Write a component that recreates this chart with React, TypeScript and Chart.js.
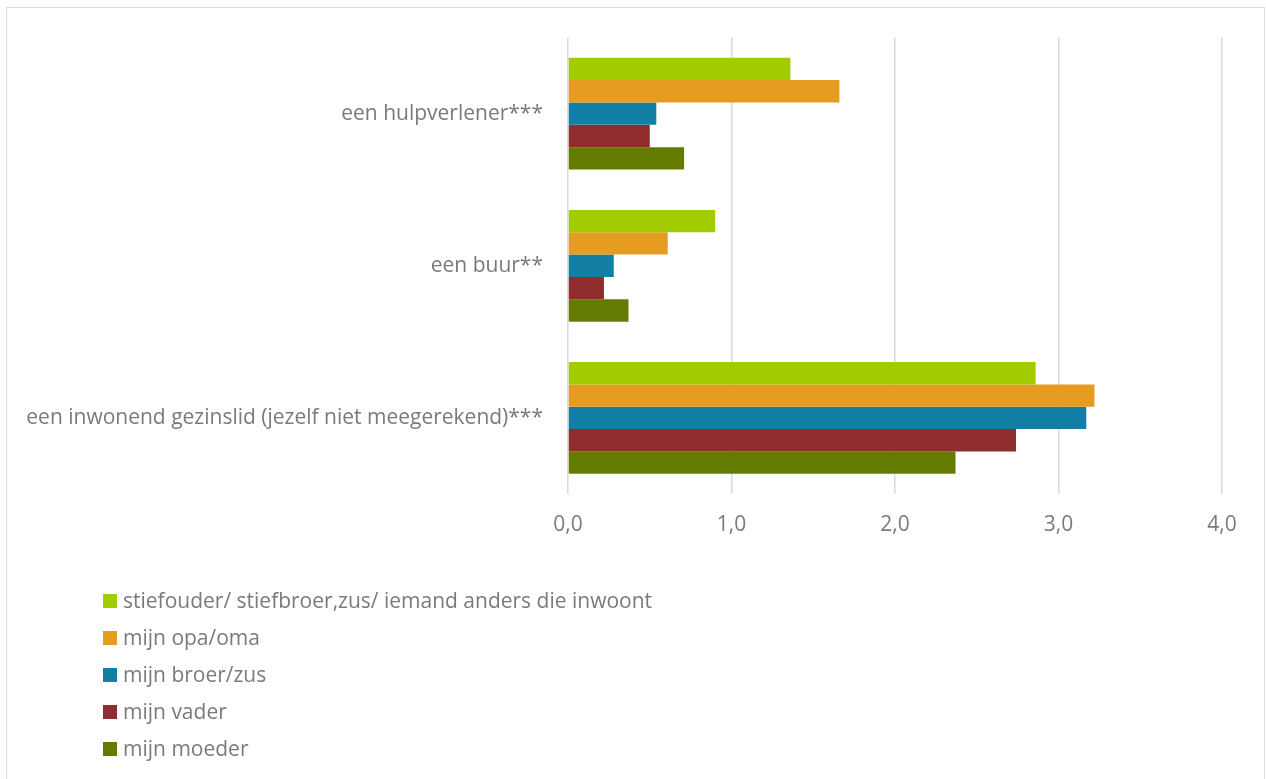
import React, { useEffect, useRef } from "react";
import { Chart, registerables } from "chart.js";

Chart.register(...registerables);

const categories = [
  "een hulpverlener***",
  "een buur**",
  "een inwonend gezinslid (jezelf niet meegerekend)***",
];

const seriesLabels = [
  "stiefouder/ stiefbroer,zus/ iemand anders die inwoont",
  "mijn opa/oma",
  "mijn broer/zus",
  "mijn vader",
  "mijn moeder",
];

const stiefouder = [1.36, 0.9, 2.86];
const opaOma = [1.66, 0.61, 3.22];
const broerZus = [0.54, 0.28, 3.17];
const vader = [0.5, 0.22, 2.74];
const moeder = [0.71, 0.37, 2.37];

const seriesValues = [stiefouder, opaOma, broerZus, vader, moeder];
const seriesColors = ["#a2cb00", "#e69b21", "#137fa5", "#8f2d2f", "#637c00"];

const xTicks = [0, 1, 2, 3, 4];

const TEXT = "#7a7a7a";
const GRID = "#dadada";
const FONT = "'Open Sans', sans-serif";
const FONT_SIZE = 21;

// Vertical legend list under the plot, one entry per row
const listLegend = {
  id: "listLegend",
  afterDraw(chart: any) {
    const { ctx } = chart;
    const items = chart.data.datasets;
    ctx.save();
    ctx.font = `${FONT_SIZE}px ${FONT}`;
    ctx.textBaseline = "middle";
    ctx.textAlign = "left";
    items.forEach((ds: any, i: number) => {
      const cy = 601 + i * 37;
      ctx.fillStyle = ds.backgroundColor;
      ctx.fillRect(103, cy - 7, 14, 14);
      ctx.fillStyle = TEXT;
      ctx.fillText(ds.label, 123, cy + 1);
    });
    ctx.restore();
  },
};

export default function App() {
  const ref = useRef<HTMLCanvasElement | null>(null);

  useEffect(() => {
    if (!ref.current) return;
    Chart.defaults.font.family = FONT;
    const chart = new Chart(ref.current, {
      type: "bar",
      data: {
        labels: categories,
        datasets: seriesLabels.map((label, i) => ({
          label,
          data: seriesValues[i],
          backgroundColor: seriesColors[i],
          borderWidth: 0,
          categoryPercentage: 0.735,
          barPercentage: 1,
        })),
      },
      options: {
        indexAxis: "y",
        responsive: false,
        animation: false,
        layout: { padding: { top: 34, right: 44, left: 0, bottom: 0 } },
        plugins: {
          legend: { display: false },
          tooltip: { enabled: false },
        },
        scales: {
          x: {
            min: 0,
            max: 4,
            afterBuildTicks: (scale: any) => {
              scale.ticks = xTicks.map((v) => ({ value: v }));
            },
            afterFit: (scale: any) => {
              scale.height = 285;
            },
            grid: { color: GRID, lineWidth: 1.5, drawTicks: false },
            border: { display: false },
            ticks: {
              color: TEXT,
              font: { size: FONT_SIZE },
              padding: 18,
              callback: (v: any) => Number(v).toFixed(1).replace(".", ","),
            },
          },
          y: {
            afterFit: (scale: any) => {
              scale.width = 568;
            },
            grid: { display: false, drawTicks: false },
            border: { display: false },
            ticks: { color: TEXT, font: { size: FONT_SIZE }, padding: 25 },
          },
        },
      },
      plugins: [listLegend],
    });
    return () => chart.destroy();
  }, []);

  return (
    <div style={{ position: "fixed", left: 0, top: 0, width: 1266, height: 779, overflow: "hidden", background: "#fff" }}>
      <div
        style={{
          position: "absolute",
          left: 6,
          top: 7,
          width: 1257,
          height: 800,
          border: "1.5px solid #dedede",
        }}
      />
      <canvas ref={ref} width={1266} height={779} style={{ position: "absolute", left: 0, top: 0 }} />
    </div>
  );
}
